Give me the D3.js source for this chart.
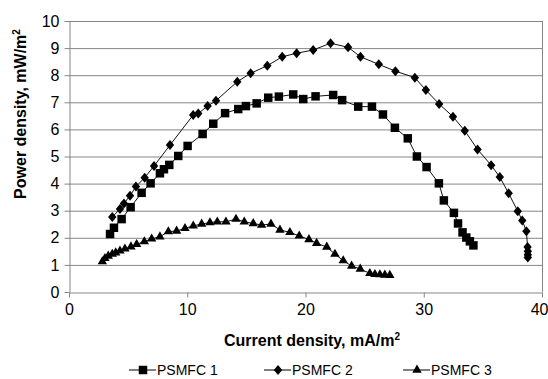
<!DOCTYPE html>
<html><head><meta charset="utf-8">
<script src="https://cdn.jsdelivr.net/npm/d3@7"></script>
<style>body{margin:0;background:#fff}svg{display:block;font-family:"Liberation Sans",Arial,sans-serif}</style>
</head><body><svg id="c" width="548" height="379"></svg>
<script>
const seriesNames = ["PSMFC 1", "PSMFC 2", "PSMFC 3"];
const x1 = [3.47, 3.8, 4.45, 5.21, 6.14, 6.9, 7.69, 8.03, 8.48, 9.24, 10.03, 11.3, 12.2, 13.2, 14.31, 14.96, 15.87, 16.85, 17.75, 18.96, 19.81, 20.85, 22.34, 23.1, 24.46, 25.62, 26.55, 27.56, 28.65, 29.42, 30.24, 31.28, 31.7, 32.55, 32.9, 33.28, 33.6, 33.9, 34.2];
const y1 = [2.14, 2.37, 2.69, 3.13, 3.66, 4.01, 4.38, 4.53, 4.69, 5.02, 5.39, 5.83, 6.21, 6.6, 6.75, 6.86, 6.96, 7.17, 7.21, 7.29, 7.12, 7.22, 7.27, 7.08, 6.84, 6.84, 6.55, 6.06, 5.67, 5.0, 4.61, 4.01, 3.38, 2.92, 2.53, 2.2, 2.01, 1.87, 1.72];
const x2 = [3.66, 4.31, 4.65, 5.16, 5.66, 6.4, 7.19, 8.54, 10.5, 10.93, 11.72, 12.43, 14.23, 15.36, 16.77, 18.03, 19.25, 20.65, 22.12, 23.6, 24.65, 26.2, 27.6, 29.25, 30.18, 31.3, 32.47, 33.47, 34.55, 35.7, 36.43, 37.18, 37.95, 38.33, 38.68, 38.78, 38.8, 38.8, 38.8];
const y2 = [2.77, 3.06, 3.27, 3.55, 3.89, 4.22, 4.65, 5.42, 6.53, 6.59, 6.86, 7.06, 7.76, 8.07, 8.35, 8.68, 8.81, 8.93, 9.18, 9.03, 8.68, 8.4, 8.15, 7.91, 7.45, 6.94, 6.47, 5.95, 5.26, 4.68, 4.24, 3.64, 2.98, 2.64, 2.24, 1.66, 1.5, 1.37, 1.27];
const x3 = [2.82, 3.04, 3.32, 3.66, 3.95, 4.31, 4.73, 5.24, 5.72, 6.37, 6.99, 7.69, 8.4, 9.1, 9.81, 10.51, 11.22, 11.92, 12.54, 13.27, 14.12, 14.82, 15.58, 16.29, 17.08, 17.84, 18.68, 19.47, 20.29, 20.94, 21.8, 22.49, 23.19, 23.9, 24.63, 25.44, 25.87, 26.29, 26.71, 27.13];
const y3 = [1.12, 1.24, 1.33, 1.4, 1.45, 1.52, 1.59, 1.67, 1.76, 1.86, 1.96, 2.04, 2.23, 2.25, 2.35, 2.44, 2.51, 2.56, 2.59, 2.59, 2.69, 2.59, 2.53, 2.47, 2.51, 2.29, 2.2, 2.07, 1.94, 1.8, 1.66, 1.4, 1.16, 0.96, 0.85, 0.69, 0.65, 0.64, 0.63, 0.62];
const xTicks = [0, 10, 20, 30, 40];
const yTicks = [0, 1, 2, 3, 4, 5, 6, 7, 8, 9, 10];

const svg = d3.select("#c");
const L = 69, R = 542, T = 21, B = 292;
const x = d3.scaleLinear().domain([0, 40]).range([L, R]);
const y = d3.scaleLinear().domain([0, 10]).range([B, T]);
const grey = "#868686";

// gridlines
svg.append("g").selectAll("line").data(yTicks.filter(d => d > 0)).join("line")
  .attr("x1", L).attr("x2", R).attr("y1", d => y(d) + 0.5).attr("y2", d => y(d) + 0.5)
  .attr("stroke", grey).attr("stroke-width", 1);
// right border
svg.append("line").attr("x1", R + 0.5).attr("x2", R + 0.5).attr("y1", T).attr("y2", B)
  .attr("stroke", grey);

// axes
const xa = svg.append("g").attr("transform", `translate(0,${B + 0.5})`)
  .call(d3.axisBottom(x).tickValues(xTicks).tickSize(5).tickSizeOuter(0).tickPadding(6));
const ya = svg.append("g").attr("transform", `translate(${L + 0.5},0)`)
  .call(d3.axisLeft(y).tickValues(yTicks).tickSize(5).tickSizeOuter(0).tickPadding(5));
[xa, ya].forEach(a => {
  a.select(".domain").attr("stroke", grey);
  a.selectAll(".tick line").attr("stroke", grey);
  a.selectAll("text").attr("fill", "#000").attr("font-size", 16)
    .attr("font-family", '"Liberation Sans",Arial,sans-serif');
});
// keep last x label inside the page
xa.selectAll(".tick text").filter(d => d === 40).attr("text-anchor", "end").attr("x", 6);

// axis titles
const xt = svg.append("text").attr("x", 312).attr("y", 346).attr("text-anchor", "middle")
  .attr("font-weight", "bold").attr("font-size", 16);
xt.append("tspan").text("Current density, mA/m");
xt.append("tspan").text("2").attr("font-size", 10).attr("dy", -6);
const yt = svg.append("text").attr("transform", "translate(26,114) rotate(-90)")
  .attr("text-anchor", "middle").attr("font-weight", "bold").attr("font-size", 16);
yt.append("tspan").text("Power density, mW/m");
yt.append("tspan").text("2").attr("font-size", 10).attr("dy", -6);

// symbols
const sq = d3.symbol().type(d3.symbolSquare).size(72)();
const tri = d3.symbol().type(d3.symbolTriangle).size(38)();
const dia = "M0,-5L4.2,0L0,5L-4.2,0Z";
const symbols = [sq, dia, tri];

const series = [
  x1.map((v, i) => [v, y1[i]]),
  x2.map((v, i) => [v, y2[i]]),
  x3.map((v, i) => [v, y3[i]])
];
const line = d3.line().x(d => x(d[0])).y(d => y(d[1]));
series.forEach((s, k) => {
  svg.append("path").datum(s).attr("d", line).attr("fill", "none")
    .attr("stroke", "#111").attr("stroke-width", 1);
  svg.append("g").selectAll("path").data(s).join("path")
    .attr("d", symbols[k])
    .attr("transform", d => `translate(${x(d[0])},${y(d[1])})`)
    .attr("fill", "#000");
});

// legend
const legX = [129, 264, 403];
const ly = 370;
seriesNames.forEach((n, k) => {
  const g = svg.append("g").attr("transform", `translate(${legX[k]},${ly})`);
  g.append("line").attr("x1", 0).attr("x2", 27).attr("y1", 0).attr("y2", 0).attr("stroke", "#000");
  g.append("path").attr("d", symbols[k]).attr("transform", "translate(14,0)").attr("fill", "#000");
  g.append("text").attr("x", 28).attr("y", 0).attr("dy", "0.36em").attr("font-size", 14).text(n);
});
</script></body></html>
